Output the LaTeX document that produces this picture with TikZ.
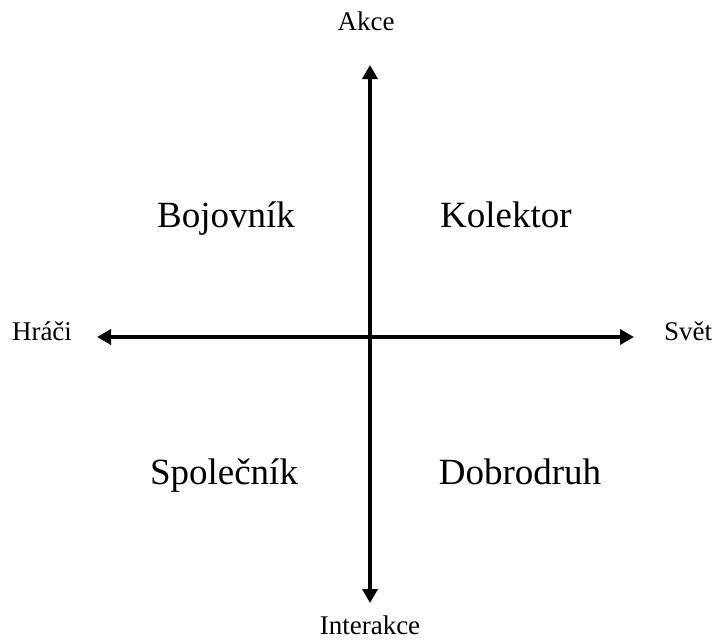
\documentclass[tikz,border=0pt]{standalone}
\usepackage{fontspec}
\setmainfont{Liberation Serif}
\usetikzlibrary{arrows.meta}
\begin{document}
\begin{tikzpicture}[x=1pt,y=-1pt,
  axis/.style={line width=4pt,{Triangle[width=15pt,length=14pt]}-{Triangle[width=15pt,length=14pt]}},
  small/.style={font=\fontsize{27}{32}\selectfont,anchor=base,inner sep=0pt},
  big/.style={font=\fontsize{37}{44}\selectfont,anchor=base,inner sep=0pt}]
\useasboundingbox (0,0) rectangle (713,640);
\coordinate (top) at (370,65);
\coordinate (bot) at (370,603);
\coordinate (left) at (97,337);
\coordinate (right) at (634,337);
\draw[axis] (bot) -- (top);
\draw[axis] (left) -- (right);
\node[small] (akce) at (366,30) {Akce};
\node[small] (inter) at (370,634) {Interakce};
\node[small] (hraci) at (42,340) {Hráči};
\node[small] (svet) at (688,340) {Svět};
\node[big] (boj) at (226,227) {Bojovník};
\node[big] (kol) at (506,227) {Kolektor};
\node[big] (spol) at (224,484) {Společník};
\node[big] (dob) at (520,484) {Dobrodruh};
\end{tikzpicture}
\end{document}
